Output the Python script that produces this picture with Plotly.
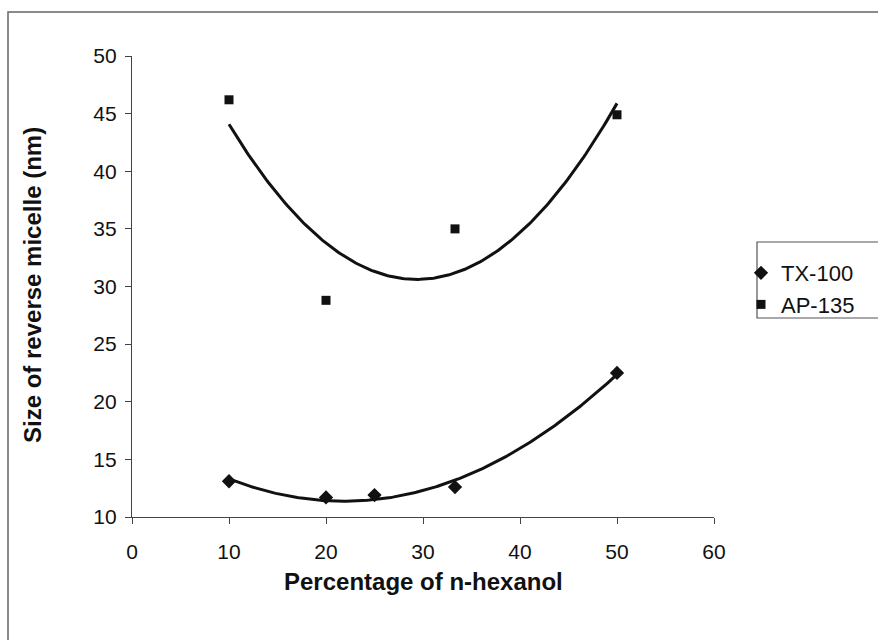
import numpy as np
import plotly.graph_objects as go

# ---- data ----
tx_x = [10, 20, 25, 33.3, 50]
tx_y = [13.1, 11.7, 11.9, 12.6, 22.5]
ap_x = [10, 20, 33.3, 50]
ap_y = [46.2, 28.8, 35.0, 44.9]
x_ticks = [0, 10, 20, 30, 40, 50, 60]
y_ticks = [10, 15, 20, 25, 30, 35, 40, 45, 50]

W, H = 878, 640
L, R, T, B = 132, 164, 56, 123
PW, PH = W - L - R, H - T - B

def px_x(p):
    return (p - L) / PW

def px_y(p):
    return (H - B - p) / PH

FONT = "Liberation Sans, Arial, sans-serif"
INK = "#111111"

fig = go.Figure()

# polynomial (order 2) trendlines, as in the original spreadsheet chart
for xs, ys in ((tx_x, tx_y), (ap_x, ap_y)):
    c = np.polyfit(xs, ys, 2)
    xf = np.linspace(min(xs), max(xs), 200)
    fig.add_trace(go.Scatter(x=xf, y=np.polyval(c, xf), mode="lines",
                             line=dict(color=INK, width=3), showlegend=False,
                             hoverinfo="skip"))

fig.add_trace(go.Scatter(x=tx_x, y=tx_y, mode="markers", name="TX-100",
                         marker=dict(symbol="diamond", size=11, color=INK)))
fig.add_trace(go.Scatter(x=ap_x, y=ap_y, mode="markers", name="AP-135",
                         marker=dict(symbol="square", size=9, color=INK)))

axis_common = dict(showgrid=False, zeroline=False, showline=True,
                   linecolor="#444444", linewidth=1.2, ticks="outside",
                   ticklen=6, tickcolor="#444444", tickwidth=1.2,
                   tickfont=dict(family=FONT, size=21, color=INK))

fig.update_xaxes(range=[0, 60], tickvals=x_ticks,
                 ticktext=[str(v) for v in x_ticks], ticklabelstandoff=10,
                 **axis_common)
fig.update_yaxes(range=[10, 50], tickvals=y_ticks,
                 ticktext=[str(v) for v in y_ticks], ticklabelstandoff=4,
                 **axis_common)

fig.update_layout(
    width=W, height=H,
    margin=dict(l=L, r=R, t=T, b=B, autoexpand=False),
    paper_bgcolor="white", plot_bgcolor="white",
    font=dict(family=FONT, color=INK),
    legend=dict(x=px_x(741), y=px_y(252), xanchor="left", yanchor="top",
                font=dict(family=FONT, size=22, color=INK),
                bgcolor="rgba(0,0,0,0)", borderwidth=0, tracegroupgap=0),
    shapes=[
        # outer chart border (cropped at the right and bottom like the scan)
        dict(type="rect", xref="paper", yref="paper",
             x0=px_x(8), x1=px_x(900), y0=px_y(660), y1=px_y(12),
             line=dict(color="#666666", width=1.5)),
        # legend box
        dict(type="rect", xref="paper", yref="paper",
             x0=px_x(757), x1=px_x(900), y0=px_y(318), y1=px_y(242),
             line=dict(color="#555555", width=1.2)),
    ],
    annotations=[
        dict(text="<b>Percentage of n-hexanol</b>", xref="paper", yref="paper",
             x=0.5, y=px_y(581), xanchor="center", yanchor="middle",
             showarrow=False, font=dict(family=FONT, size=24, color=INK)),
        dict(text="<b>Size of reverse micelle (nm)</b>", xref="paper", yref="paper",
             x=px_x(32), y=px_y(285), xanchor="center", yanchor="middle",
             textangle=-90, showarrow=False,
             font=dict(family=FONT, size=24, color=INK)),
    ],
)

fig.write_html("out.html")
